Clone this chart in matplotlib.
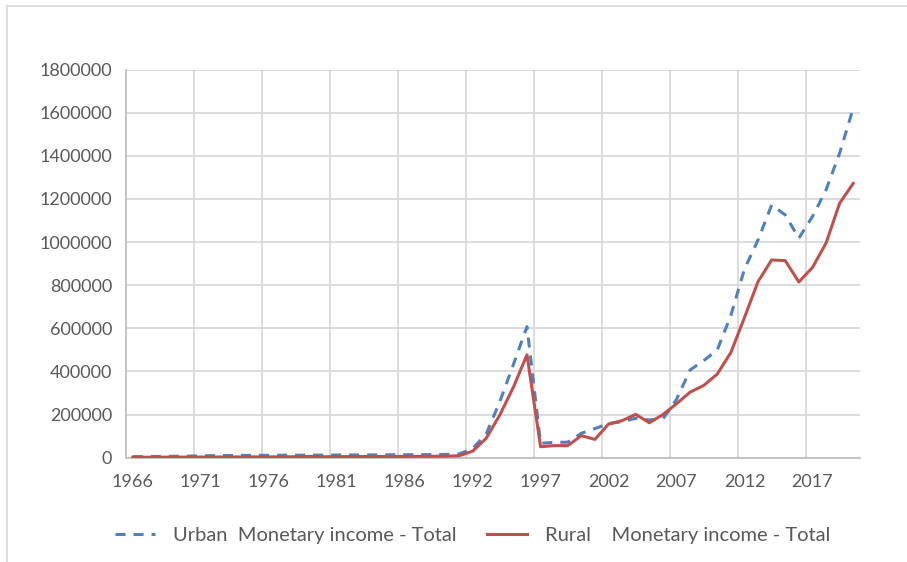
import matplotlib
matplotlib.use('Agg')
import matplotlib.pyplot as plt
import numpy as np
from matplotlib.lines import Line2D

years = [str(y) for y in list(range(1966, 1991)) + list(range(1992, 2021))]

urban = [5000, 5500, 6000, 6500, 7000, 9000, 9500, 10000, 10500, 11000,
         11000, 11500, 11500, 12000, 12000, 12500, 12500, 13000, 13000, 13500,
         14000, 14000, 14500, 15000, 17000,
         42000, 110000, 260000, 432000, 608000,
         67000, 71000, 72000, 113000, 135000, 158000, 167000, 183000, 175000, 180000,
         270000, 407000, 450000, 500000, 660000, 875000, 1010000, 1172000, 1126000, 1018000,
         1118000, 1242000, 1412000, 1621000]

rural = [2000, 2200, 2400, 2600, 2800, 3000, 3200, 3400, 3600, 3800,
         4000, 4200, 4500, 6000, 4500, 5000, 5200, 5400, 5600, 5800,
         6000, 6200, 6500, 7000, 9000,
         30000, 90000, 198000, 327000, 477000,
         51000, 56000, 56000, 102000, 85000, 156000, 172000, 201000, 162000, 200000,
         250000, 304000, 335000, 388000, 488000, 650000, 817000, 917000, 914000, 815000,
         882000, 995000, 1180000, 1272000]

yticks = list(range(0, 1800001, 200000))
series_names = ['Urban  Monetary income - Total', 'Rural    Monetary income - Total']

plt.rcParams['font.family'] = ['Lato', 'DejaVu Sans']
GRAY_TXT = '#595959'
GRID = '#d9d9d9'

fig = plt.figure(figsize=(9.07, 5.62), dpi=100)
ax = fig.add_axes([126 / 907, 1 - 457.7 / 562, 734 / 907, (457.7 - 69.6) / 562])

x = np.arange(len(years))
ax.plot(x, urban, color='#4F81BD', lw=2.2, dashes=(3.3, 2.6),
        label=series_names[0], zorder=3)
ax.plot(x, rural, color='#C0504D', lw=2.2, label=series_names[1], zorder=3)

ax.set_xlim(-0.5, len(years) - 0.5)
ax.set_ylim(0, 1800000)
ax.set_yticks(yticks)
ax.set_yticklabels([str(v) for v in yticks])

major = list(range(0, len(years), 5))
ax.set_xticks(major)
ax.set_xticklabels([years[i] for i in major])
ax.set_xticks([i - 0.5 for i in range(5, len(years), 5)], minor=True)

ax.tick_params(axis='both', which='both', length=0, labelsize=13, labelcolor=GRAY_TXT)
ax.tick_params(axis='y', pad=10)
ax.tick_params(axis='x', pad=12)

ax.yaxis.grid(True, which='major', color=GRID, lw=1.3, zorder=0)
ax.xaxis.grid(False, which='major')
ax.xaxis.grid(True, which='minor', color=GRID, lw=1.3, zorder=0)
ax.set_axisbelow(True)

for s in ['top', 'right']:
    ax.spines[s].set_visible(False)
for s in ['left', 'bottom']:
    ax.spines[s].set_color('#bfbfbf')
    ax.spines[s].set_linewidth(1.3)

fig.legend(loc='center', bbox_to_anchor=(0.521, 1 - 535 / 562), ncol=2, frameon=False,
           fontsize=14.5, handlelength=2.0, handletextpad=0.9, columnspacing=1.5,
           labelcolor=GRAY_TXT)

# chart border (top & left)
fig.add_artist(Line2D([7 / 907, 1.0], [1 - 6 / 562, 1 - 6 / 562],
                      transform=fig.transFigure, color=GRID, lw=1.2))
fig.add_artist(Line2D([7 / 907, 7 / 907], [1 - 6 / 562, 0.0],
                      transform=fig.transFigure, color=GRID, lw=1.2))

fig.savefig('out.png', dpi=100)
